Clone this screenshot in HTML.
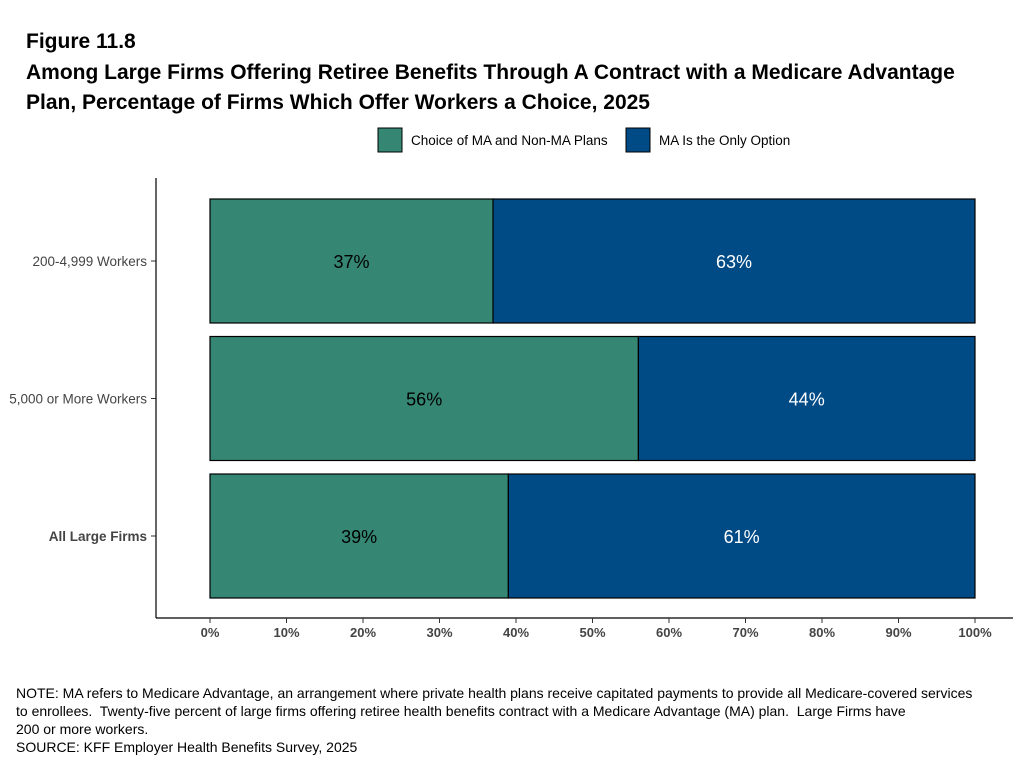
<!DOCTYPE html>
<html><head><meta charset="utf-8"><style>
body{margin:0;width:1023px;height:770px;background:#fff;font-family:"Liberation Sans",Arial,sans-serif;overflow:hidden}
.t{position:absolute;left:26px;font-weight:bold;font-size:21px;color:#000}
.note{position:absolute;left:16px;font-size:14px;color:#000;line-height:18px;top:684px}
</style></head><body>
<div class="t" style="top:30px">Figure 11.8</div>
<div class="t" style="top:58px;line-height:30px">Among Large Firms Offering Retiree Benefits Through A Contract with a Medicare Advantage<br>Plan, Percentage of Firms Which Offer Workers a Choice, 2025</div>
<svg width="1023" height="770" style="position:absolute;left:0;top:0">
<g font-size="13.5" font-family="Liberation Sans, Arial, sans-serif">
<rect x="378" y="128" width="24" height="24" fill="#358673" stroke="#000"/>
<text x="411" y="145">Choice of MA and Non-MA Plans</text>
<rect x="626" y="128" width="24" height="24" fill="#004a85" stroke="#000"/>
<text x="659" y="145">MA Is the Only Option</text>
</g>
<g id="plot"></g>
</svg>
<div class="note">NOTE: MA refers to Medicare Advantage, an arrangement where private health plans receive capitated payments to provide all Medicare-covered services<br>to enrollees.&nbsp; Twenty-five percent of large firms offering retiree health benefits contract with a Medicare Advantage (MA) plan.&nbsp; Large Firms have<br>200 or more workers.<br>SOURCE: KFF Employer Health Benefits Survey, 2025</div>
<script>
const categories=["200-4,999 Workers","5,000 or More Workers","All Large Firms"];
const choiceValues=[37,56,39];
const maOnlyValues=[63,44,61];
const ticks=[0,10,20,30,40,50,60,70,80,90,100];
const NS="http://www.w3.org/2000/svg";
const g=document.getElementById('plot');
const x=v=>210+v*7.65;
const bandH=137.5;
const yc=i=>261+bandH*i;
function mk(t,a,txt){const e=document.createElementNS(NS,t);for(const k in a)e.setAttribute(k,a[k]);if(txt!=null)e.textContent=txt;g.appendChild(e);return e;}
categories.forEach((c,i)=>{
 const cy=yc(i),h=124,y0=cy-h/2;
 let r=mk('rect',{x:x(0),y:y0,width:x(choiceValues[i])-x(0),height:h,fill:'#358673',stroke:'#000','stroke-width':1.2});
 
 
 r=mk('rect',{x:x(choiceValues[i]),y:y0,width:x(choiceValues[i]+maOnlyValues[i])-x(choiceValues[i]),height:h,fill:'#004a85',stroke:'#000','stroke-width':1.2});
 
 
 let t=mk('text',{x:(x(0)+x(choiceValues[i]))/2,y:cy+7,'text-anchor':'middle','font-size':18,fill:'#000'},choiceValues[i]+'%');
 
 
 t=mk('text',{x:(x(choiceValues[i])+x(choiceValues[i]+maOnlyValues[i]))/2,y:cy+7,'text-anchor':'middle','font-size':18,fill:'#fff'},maOnlyValues[i]+'%');
 
 
 t=mk('text',{x:147,y:cy+5,'text-anchor':'end','font-size':13.5,fill:'#444','font-weight':i==categories.length-1?'bold':'normal'},c);
 
 
 mk('line',{x1:151,x2:156,y1:cy,y2:cy,stroke:'#333'});
});
let a=mk('line',{x1:156,x2:156,y1:178,y2:618,stroke:'#000','stroke-width':1.2});


a=mk('line',{x1:156,x2:1013,y1:618,y2:618,stroke:'#000','stroke-width':1.2});


ticks.forEach(v=>{
 mk('line',{x1:x(v),x2:x(v),y1:618,y2:623,stroke:'#333'});
 const t=mk('text',{x:x(v),y:637,'text-anchor':'middle','font-size':13,'font-weight':'bold',fill:'#444'},v+'%');
 
 
});
</script>
</body></html>
